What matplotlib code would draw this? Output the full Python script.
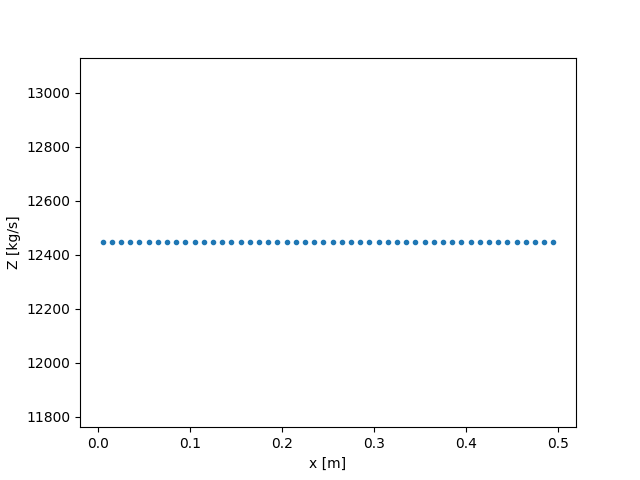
import matplotlib
matplotlib.use("Agg")
import matplotlib.pyplot as plt

x = [0.005, 0.015, 0.025, 0.035, 0.045, 0.055, 0.065, 0.075, 0.085, 0.095,
     0.105, 0.115, 0.125, 0.135, 0.145, 0.155, 0.165, 0.175, 0.185, 0.195,
     0.205, 0.215, 0.225, 0.235, 0.245, 0.255, 0.265, 0.275, 0.285, 0.295,
     0.305, 0.315, 0.325, 0.335, 0.345, 0.355, 0.365, 0.375, 0.385, 0.395,
     0.405, 0.415, 0.425, 0.435, 0.445, 0.455, 0.465, 0.475, 0.485, 0.495]
z = [12445] * 50

fig, ax = plt.subplots(figsize=(6.4, 4.8), dpi=100)
ax.plot(x, z, '.')
ax.set_xlabel("x [m]")
ax.set_ylabel("Z [kg/s]")
fig.savefig("out.png")
